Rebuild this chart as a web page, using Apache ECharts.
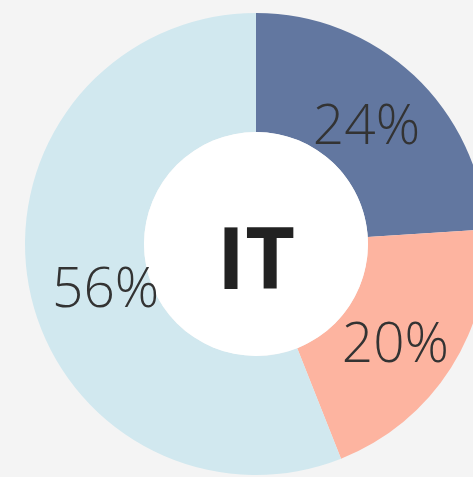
<!DOCTYPE html>
<html>
<head>
<meta charset="utf-8">
<script src="https://cdn.jsdelivr.net/npm/echarts@6/dist/echarts.min.js"></script>
<style>
  html, body { margin: 0; padding: 0; background: #f4f4f4; }
  #chart { width: 473px; height: 477px; }
</style>
</head>
<body>
<div id="chart"></div>
<script>
var names = ['A', 'B', 'C'];
var values = [24, 20, 56];
var colors = ['#6277a0', '#fdb4a0', '#d1e8ef'];
// nudges so labels sit where the reference has them
var labelOffsets = [[-9, 12], [-8, 9], [21, 15]];
var centerText = 'IT';

var myChart = echarts.init(document.getElementById('chart'));

var data = names.map(function (n, i) {
  return {
    name: n,
    value: values[i],
    itemStyle: { color: colors[i] },
    label: { offset: labelOffsets[i] }
  };
});

var option = {
  backgroundColor: '#f4f4f4',
  animation: false,
  series: [
    {
      type: 'pie',
      center: [256, 244],
      radius: [112, 231],
      startAngle: 90,
      clockwise: true,
      silent: true,
      label: {
        position: 'inside',
        formatter: '{c}%',
        color: '#333',
        fontFamily: 'Open Sans',
        fontWeight: 300,
        fontSize: 55
      },
      labelLine: { show: false },
      data: data
    },
    {
      type: 'pie',
      center: [256, 244],
      radius: [0, 112],
      silent: true,
      label: {
        position: 'center',
        formatter: centerText,
        color: '#222',
        fontFamily: 'Open Sans',
        fontWeight: 'bold',
        fontSize: 86,
        offset: [0, 20]
      },
      data: [{ value: 1, itemStyle: { color: '#ffffff' } }]
    }
  ]
};
myChart.setOption(option);
</script>
</body>
</html>
